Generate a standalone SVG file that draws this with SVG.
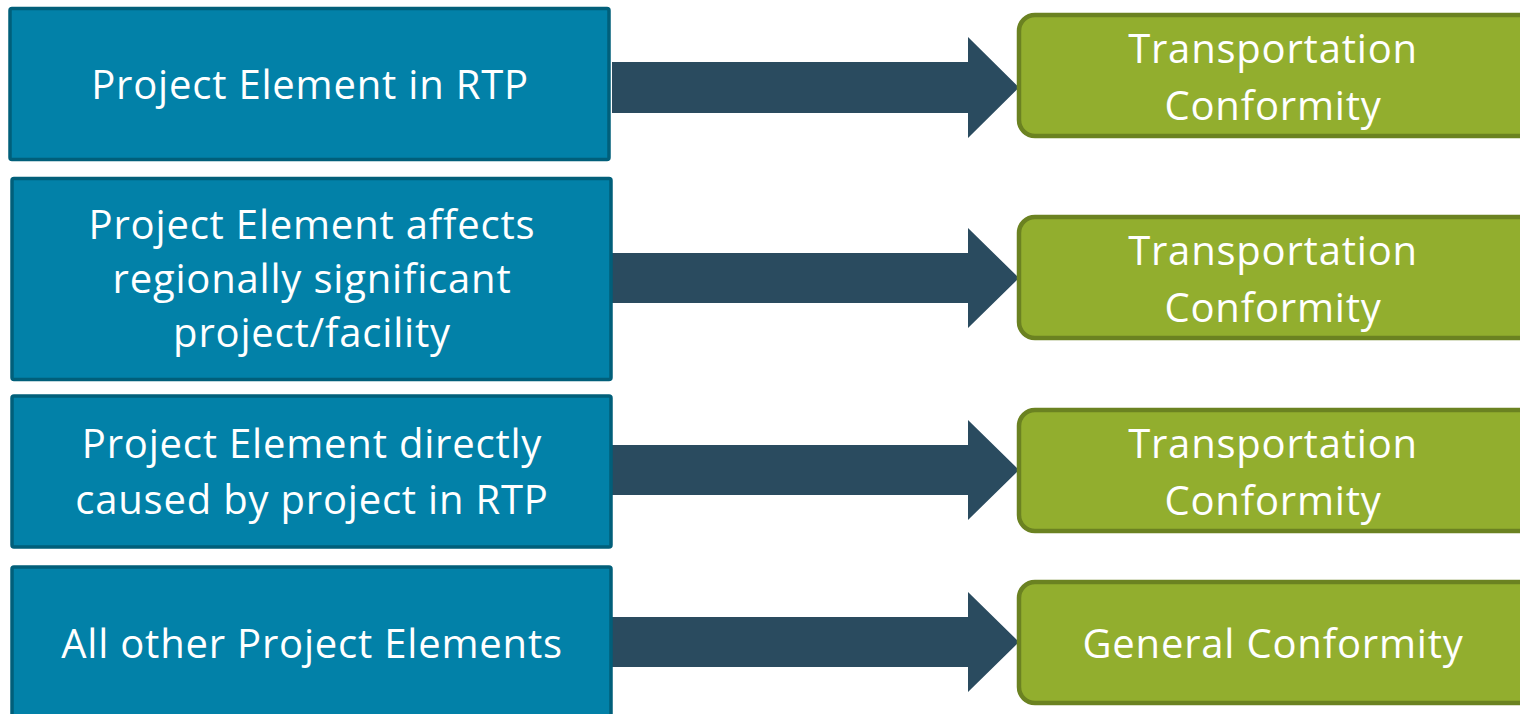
<svg xmlns="http://www.w3.org/2000/svg" width="1520" height="714" viewBox="0 0 1520 714">
<style>
.blue{fill:#0281a8;stroke:#015f7a;stroke-width:3.5}
.green{fill:#92ae2e;stroke:#6b8221;stroke-width:4.5}
.arrow{fill:#2a4b5f}
text{font-family:"Open Sans","Liberation Sans",sans-serif;font-size:40px;letter-spacing:0.8px;fill:#ffffff;text-anchor:middle}
</style>
<rect width="1520" height="714" fill="#ffffff"/>
<g id="connectors">
<polygon class="arrow" points="612,62 968,62 968,37 1019,87.5 968,138 968,113 612,113"/>
<polygon class="arrow" points="612,253 968,253 968,228 1019,278 968,328 968,303 612,303"/>
<polygon class="arrow" points="612,445 968,445 968,420 1019,470 968,520 968,495 612,495"/>
<polygon class="arrow" points="612,617 968,617 968,592 1019,642 968,692 968,667 612,667"/>
</g>
<g id="node-b1"><rect class="blue" x="10" y="8.5" width="599" height="151" rx="2"/><text x="310" y="99">Project Element in RTP</text></g>
<g id="node-b2"><rect class="blue" x="12" y="178.5" width="599" height="201" rx="2"/><text x="312" y="239">Project Element affects</text><text x="312" y="293">regionally significant</text><text x="312" y="347">project/facility</text></g>
<g id="node-b3"><rect class="blue" x="12" y="396" width="599" height="151" rx="2"/><text x="312" y="458">Project Element directly</text><text x="312" y="514">caused by project in RTP</text></g>
<g id="node-b4"><rect class="blue" x="12" y="567" width="599" height="160" rx="2"/><text x="312" y="658">All other Project Elements</text></g>
<g id="node-g1"><rect class="green" x="1019" y="15" width="520" height="121" rx="16"/><text x="1273" y="63">Transportation</text><text x="1273" y="120">Conformity</text></g>
<g id="node-g2"><rect class="green" x="1019" y="217" width="520" height="121" rx="16"/><text x="1273" y="265">Transportation</text><text x="1273" y="322">Conformity</text></g>
<g id="node-g3"><rect class="green" x="1019" y="410" width="520" height="121" rx="16"/><text x="1273" y="458">Transportation</text><text x="1273" y="515">Conformity</text></g>
<g id="node-g4"><rect class="green" x="1019" y="582" width="520" height="121" rx="16"/><text x="1273" y="658">General Conformity</text></g>
</svg>
